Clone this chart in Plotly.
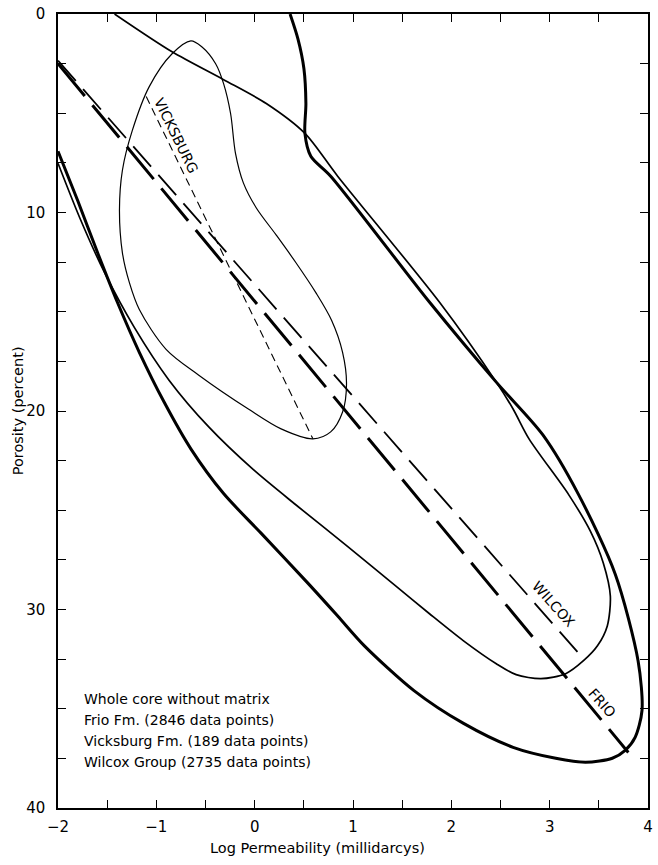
import plotly.graph_objects as go

# ---- Data ----
# Frio Fm. envelope (thick solid)
frio_env_x = [0.360, 0.440, 0.501, 0.521, 0.511, 0.571, 0.773, 1.781, 2.457, 2.931, 3.294, 3.667,
              3.899, 3.939, 3.869, 3.768, 3.637, 3.365, 3.062, 2.628, 2.124, 1.620, 1.116, 0.844,
              0.541, 0.067, -0.316, -0.649, -0.921, -1.173, -1.395, -1.597, -1.798, -2.0]
frio_env_y = [0.0, 1.253, 2.757, 4.511, 6.015, 7.168, 8.170, 14.536, 18.546, 21.203, 24.211, 28.221,
              32.581, 35.088, 36.441, 37.093, 37.494, 37.694, 37.494, 36.942, 35.739, 34.085, 31.830, 30.326,
              28.672, 26.165, 24.160, 21.905, 19.549, 17.043, 14.536, 12.030, 9.424, 6.917]

# Wilcox Group envelope (thin solid)
wilcox_env_x = [-1.425, -0.840, -0.316, 0.118, 0.511, 0.844, 1.882, 2.457, 2.628, 2.790, 3.193,
                3.415, 3.546, 3.617, 3.586, 3.486, 3.344, 3.163, 2.911, 2.659, 2.457, 2.124,
                1.781, 1.449, 0.944, 0.440, -0.013, -0.467, -0.871, -1.224, -1.526, -1.778, -2.0]
wilcox_env_y = [0.0, 1.905, 3.308, 4.511, 6.015, 8.170, 14.536, 18.546, 19.900, 21.404, 24.211,
                26.065, 27.669, 29.323, 30.827, 31.830, 32.581, 33.233, 33.484, 33.283, 32.732, 31.579,
                30.226, 28.872, 26.817, 24.812, 22.957, 20.802, 18.446, 15.789, 13.033, 10.276, 7.519]

# Vicksburg Fm. envelope (thin solid, closed)
vicks_env_x = [-0.649, -0.538, -0.397, -0.316, -0.245, -0.195, -0.114, 0.017, 0.218, 0.420,
               0.622, 0.783, 0.894, 0.934, 0.894, 0.773, 0.592, 0.269, -0.064, -0.568,
               -0.901, -1.173, -1.274, -1.345, -1.375, -1.345, -1.244, -1.072, -0.840, -0.649]
vicks_env_y = [1.353, 1.654, 2.506, 3.509, 5.013, 7.018, 8.521, 9.774, 11.128, 12.531,
               14.035, 15.439, 17.043, 18.647, 20.050, 21.053, 21.404, 20.902, 19.900, 18.195,
               16.892, 14.887, 13.534, 12.030, 9.875, 7.870, 5.865, 3.659, 2.005, 1.353]

# Regression lines (dashed)
frio_reg_x = [-2.0, 3.80]
frio_reg_y = [2.5, 37.2]
wilcox_reg_x = [-2.0, 3.344]
wilcox_reg_y = [2.35, 32.48]
vicks_reg_x = [-1.103, 0.592]
vicks_reg_y = [4.16, 21.4]

legend_lines = ["Whole core without matrix",
                "Frio Fm. (2846 data points)",
                "Vicksburg Fm. (189 data points)",
                "Wilcox Group (2735 data points)"]

FONT = "DejaVu Sans"

fig = go.Figure()

fig.add_trace(go.Scatter(x=frio_env_x, y=frio_env_y, mode="lines",
                         line=dict(color="black", width=3, shape="spline", smoothing=0.8),
                         hoverinfo="skip", name="Frio envelope"))
fig.add_trace(go.Scatter(x=wilcox_env_x, y=wilcox_env_y, mode="lines",
                         line=dict(color="black", width=1.7, shape="spline", smoothing=0.8),
                         hoverinfo="skip", name="Wilcox envelope"))
fig.add_trace(go.Scatter(x=vicks_env_x, y=vicks_env_y, mode="lines",
                         line=dict(color="black", width=1.2, shape="spline", smoothing=0.9),
                         hoverinfo="skip", name="Vicksburg envelope"))

fig.add_trace(go.Scatter(x=frio_reg_x, y=frio_reg_y, mode="lines",
                         line=dict(color="black", width=3, dash="42px,12px"),
                         hoverinfo="skip", name="Frio"))
fig.add_trace(go.Scatter(x=wilcox_reg_x, y=wilcox_reg_y, mode="lines",
                         line=dict(color="black", width=1.8, dash="27px,11px"),
                         hoverinfo="skip", name="Wilcox"))
fig.add_trace(go.Scatter(x=vicks_reg_x, y=vicks_reg_y, mode="lines",
                         line=dict(color="black", width=1.1, dash="8px,5px"),
                         hoverinfo="skip", name="Vicksburg"))

# Line labels
fig.add_annotation(x=-0.795, y=6.145, text="VICKSBURG", showarrow=False, textangle=64,
                   font=dict(family=FONT, size=14, color="black"))
fig.add_annotation(x=3.04, y=29.72, text="WILCOX", showarrow=False, textangle=48,
                   font=dict(family=FONT, size=14, color="black"))
fig.add_annotation(x=3.536, y=34.69, text="FRIO", showarrow=False, textangle=48,
                   font=dict(family=FONT, size=14, color="black"))

# Legend text block
for i, t in enumerate(legend_lines):
    fig.add_annotation(x=-1.758, y=34.49 + i * 1.065, text=t, showarrow=False,
                       xanchor="left", yanchor="middle",
                       font=dict(family=FONT, size=14, color="black"))

# Axis titles
fig.add_annotation(x=0.642, y=-0.050, xref="x", yref="paper",
                   text="Log Permeability (millidarcys)", showarrow=False,
                   xanchor="center", yanchor="middle",
                   font=dict(family=FONT, size=14.5, color="black"))
fig.add_annotation(x=-0.0672, y=0.5, xref="paper", yref="paper",
                   text="Porosity (percent)", showarrow=False, textangle=-90,
                   xanchor="center", yanchor="middle",
                   font=dict(family=FONT, size=14.5, color="black"))

fig.update_layout(
    width=658, height=865,
    margin=dict(l=58, r=5, t=10, b=57),
    plot_bgcolor="white", paper_bgcolor="white",
    showlegend=False,
    font=dict(family=FONT, size=14, color="black"),
)

fig.update_xaxes(
    range=[-2, 4], dtick=1, tick0=0,
    ticks="inside", ticklen=8, tickwidth=1.3, tickcolor="black",
    minor=dict(dtick=0.5, ticks="inside", ticklen=8, tickwidth=1.3, tickcolor="black"),
    showline=True, linecolor="black", linewidth=1.5, mirror="ticks",
    showgrid=False, zeroline=False,
    tickfont=dict(family=FONT, size=15), ticklabelstandoff=4,
)
fig.update_yaxes(
    range=[40, 0], dtick=10, tick0=0,
    ticks="inside", ticklen=8, tickwidth=1.3, tickcolor="black",
    minor=dict(dtick=2.5, ticks="inside", ticklen=8, tickwidth=1.3, tickcolor="black"),
    showline=True, linecolor="black", linewidth=1.5, mirror="ticks",
    showgrid=False, zeroline=False,
    tickfont=dict(family=FONT, size=15), ticklabelstandoff=8,
)

fig.write_html("out.html")
